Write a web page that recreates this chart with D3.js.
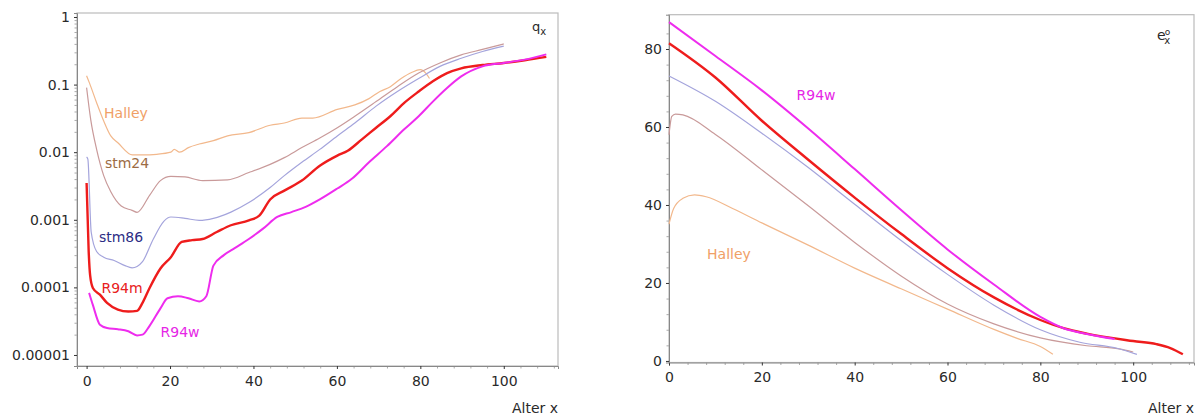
<!DOCTYPE html>
<html>
<head>
<meta charset="utf-8">
<script src="https://d3js.org/d3.v7.min.js"></script>
<style>
  body { margin: 0; background: #fff; }
  svg text { font-family: "DejaVu Sans", Verdana, sans-serif; }
  .tick text { fill: #2a2a2a; font-size: 14px; }
  .major line { stroke: #333; }
  .minor line { stroke: #aaa; }
  .frame { fill: none; stroke: #bbb; stroke-width: 1.2px; }
  .serie { fill: none; }
</style>
</head>
<body>
<svg id="chart" width="1198" height="419"></svg>
<script>
// ---- q_x (mortality) ----
const halleyQ = [[0,0.135],[0.7,0.105],[2.4,0.054],[4,0.030],[5.8,0.0174],[7.5,0.0138],[11,0.0091],[13.4,0.0091],[16.8,0.0093],[20.2,0.0100],[21,0.0110],[22.3,0.0100],[24.4,0.0117],[27,0.0132],[30.4,0.0148],[33.8,0.0174],[38.9,0.0195],[44,0.025],[47.4,0.027],[51.6,0.032],[54.2,0.032],[60.1,0.043],[64.3,0.050],[67.7,0.062],[70.3,0.079],[72.8,0.093],[75.4,0.123],[77.9,0.151],[80,0.166],[81.3,0.148],[82.2,0.123]];
const stm24Q = [[0,0.09],[1,0.03],[2.4,0.011],[4.1,0.0045],[5.8,0.0026],[8.3,0.0016],[10.9,0.00138],[12.1,0.00129],[15.1,0.0023],[17.7,0.0038],[20.2,0.0044],[23.6,0.0043],[27.8,0.0038],[33.8,0.0039],[38.9,0.0050],[44,0.0066],[47.4,0.0083],[51.6,0.0117],[55.9,0.0162],[60.1,0.023],[64.3,0.034],[69.4,0.056],[74.5,0.093],[79.6,0.148],[84.7,0.209],[89.8,0.275],[94.9,0.331],[100,0.40]];
const stm86Q = [[0,0.0085],[0.3,0.0079],[1.1,0.00066],[2.4,0.00034],[4.1,0.00028],[6.6,0.00025],[9.2,0.00021],[10.9,0.000195],[12.1,0.000204],[13.4,0.00024],[16,0.00052],[18.5,0.00095],[20.2,0.0011],[23.6,0.00105],[27,0.00098],[30.4,0.00105],[34.6,0.0013],[38.9,0.0018],[44,0.0030],[47.4,0.0045],[51.6,0.0071],[55.9,0.011],[60.1,0.0174],[64.3,0.027],[69.4,0.048],[74.5,0.079],[79.6,0.123],[84.7,0.186],[89.8,0.245],[94.9,0.309],[100,0.37]];
const r94mQ = [[0,0.0035],[0.5,0.00034],[0.85,0.00015],[1.5,0.000098],[3.2,0.000078],[4.9,0.000059],[7.5,0.000047],[10,0.000044],[12.1,0.000045],[13.4,0.000059],[15.1,0.000098],[17.7,0.00019],[20.2,0.00028],[22.8,0.00047],[25.3,0.00050],[27.8,0.00052],[31.2,0.00066],[34.6,0.00083],[38.9,0.00098],[41.4,0.00115],[44,0.0020],[47.4,0.0027],[51.6,0.0038],[55.9,0.0063],[60.1,0.0089],[62.6,0.0105],[66,0.0155],[69.4,0.023],[72.8,0.034],[76.2,0.054],[79.6,0.079],[83,0.112],[86.4,0.148],[89.8,0.174],[94.9,0.195],[100,0.209],[105,0.229],[110.2,0.257]];
const r94wQ = [[0.6,0.000083],[1.5,0.000055],[3.2,0.000028],[4.9,0.000025],[7.5,0.000024],[10,0.0000224],[12.1,0.0000195],[13.4,0.00002],[15.1,0.000027],[17.7,0.000049],[19.4,0.000069],[21.9,0.000074],[24.4,0.000069],[27,0.000062],[28.7,0.000074],[30.4,0.00021],[32.9,0.00030],[35.5,0.00038],[38.9,0.00052],[42.3,0.00074],[45.7,0.0011],[49.1,0.0013],[52.5,0.00155],[55.9,0.0020],[60.1,0.0029],[63.5,0.0040],[67.7,0.0071],[72,0.0123],[76.2,0.022],[79.6,0.034],[83,0.056],[86.4,0.089],[89.8,0.132],[94.9,0.186],[100,0.209],[105,0.234],[110.2,0.28]];

// ---- e_x (life expectancy) ----
const halleyE = [[0,35.1],[1,39.1],[3,41.7],[5.5,42.6],[8,42.1],[13.7,39.1],[20,35.4],[30,29.7],[40,23.8],[50,18.5],[60,13.3],[70,8.1],[75,5.8],[80,3.7],[82.7,1.7]];
const stm24E = [[0,58],[0.6,62.7],[1.4,63.3],[3,63.1],[10,58.1],[20,49],[30,39.8],[40,30.4],[50,21.8],[60,14.6],[70,9.5],[80,5.9],[90,3.9],[97,3.1],[100,2.3]];
const stm86E = [[0,73.1],[10,66.6],[20,58.4],[30,49.6],[40,40.2],[50,30.9],[60,22.2],[70,14.3],[80,8.0],[88.5,4.8],[96.7,3.2],[100.8,1.7]];
const r94mE = [[0,81.5],[10,72.7],[20,61.6],[30,51.6],[40,41.9],[50,32.6],[60,23.8],[70,16.3],[80,10.5],[85,8.4],[90,7.0],[100,5.1],[105,4.3],[108,3.3],[110.7,1.7]];
const r94wE = [[0,86.9],[10,78.2],[20,69.4],[30,59.6],[40,49.2],[50,38.7],[60,28.6],[70,19.6],[80,11.3],[85,8.4],[90,6.9],[96,5.6]];

const xTicks = [0, 20, 40, 60, 80, 100];
const qTicks = [1, 0.1, 0.01, 0.001, 0.0001, 0.00001];
const qTickLabels = ["1", "0.1", "0.01", "0.001", "0.0001", "0.00001"];
const eTicks = [0, 20, 40, 60, 80];

const svg = d3.select("#chart");

const series = [
    { name: "Halley", q: halleyQ, e: halleyE, color: "#f2b88c", width: 1.2 },
    { name: "stm24", q: stm24Q, e: stm24E, color: "#c99a9a", width: 1.2 },
    { name: "stm86", q: stm86Q, e: stm86E, color: "#a4a4dc", width: 1.2 },
    { name: "R94m", q: r94mQ, e: r94mE, color: "#ee1c1c", width: 2.4 },
    { name: "R94w", q: r94wQ, e: r94wE, color: "#ee2cee", width: 2 }
];

// draws frame + axes, returns the plot group
function panel(x, y, yTicks, yLabels, minorY, minorX) {
    const g = svg.append("g");
    const [x0, x1] = x.range();
    const [y0, y1] = y.range();

    g.append("rect").attr("class", "frame")
        .attr("x", x0).attr("y", y1).attr("width", x1 - x0).attr("height", y0 - y1);

    // minor ticks first
    g.append("g").attr("class", "minor")
        .attr("transform", `translate(0,${y0})`)
        .call(d3.axisBottom(x).tickValues(minorX).tickSize(2.5).tickFormat(""))
        .call(a => a.select(".domain").remove());
    g.append("g").attr("class", "minor")
        .attr("transform", `translate(${x0},0)`)
        .call(d3.axisLeft(y).tickValues(minorY).tickSize(2.5).tickFormat(""))
        .call(a => a.select(".domain").remove());

    g.append("g").attr("class", "major")
        .attr("transform", `translate(0,${y0})`)
        .call(d3.axisBottom(x).tickValues(xTicks).tickSize(3).tickPadding(7))
        .call(a => a.select(".domain").attr("stroke", "#888"));
    g.append("g").attr("class", "major")
        .attr("transform", `translate(${x0},0)`)
        .call(d3.axisLeft(y).tickValues(yTicks).tickSize(3).tickPadding(4)
            .tickFormat((d, i) => yLabels[i]))
        .call(a => a.select(".domain").attr("stroke", "#888"));

    g.append("text")
        .attr("x", x1).attr("y", 413)
        .attr("text-anchor", "end")
        .attr("font-size", 14).attr("fill", "#2a2a2a")
        .text("Alter x");
    return g;
}

// ---------- left panel: q_x on log scale ----------
const xL = d3.scaleLinear().domain([-2.3, 113]).range([77, 558]);
const yL = d3.scaleLog().domain([Math.pow(10, -5.163), Math.pow(10, 0.059)]).range([366, 13]);

const minorQ = [];
for (let e = -5; e < 0; e++) for (let k = 2; k <= 9; k++) minorQ.push(k * Math.pow(10, e));
const minorX = d3.range(4, 113, 4).filter(v => v % 20 !== 0);

const left = panel(xL, yL, qTicks, qTickLabels, minorQ, minorX);

const lineL = d3.line().x(d => xL(d[0])).y(d => yL(d[1])).curve(d3.curveMonotoneX);
left.selectAll("path.serie").data(series)
    .join("path").attr("class", "serie")
    .attr("stroke", d => d.color)
    .attr("stroke-width", d => d.width)
    .attr("d", d => lineL(d.q));

const qLabels = [
    { text: "Halley", x: 126, y: 118, color: "#f0a066" },
    { text: "stm24", x: 127, y: 168, color: "#9c6c44" },
    { text: "stm86", x: 121, y: 242, color: "#2c2c84" },
    { text: "R94m", x: 122, y: 293, color: "#e82020" },
    { text: "R94w", x: 180, y: 337, color: "#e626e6" }
];
left.selectAll("text.lab").data(qLabels)
    .join("text").attr("class", "lab")
    .attr("x", d => d.x).attr("y", d => d.y)
    .attr("text-anchor", "middle").attr("font-size", 14)
    .attr("fill", d => d.color).text(d => d.text);

const qx = left.append("text").attr("x", 532).attr("y", 31).attr("font-size", 13).attr("fill", "#2a2a2a");
qx.append("tspan").text("q");
qx.append("tspan").attr("dy", 4).attr("font-size", 10).text("x");

// ---------- right panel: e_x ----------
const xR = d3.scaleLinear().domain([0, 113.1]).range([669, 1194]);
const yR = d3.scaleLinear().domain([-0.4, 88.8]).range([362.5, 14.7]);
const minorE = d3.range(4, 88, 4).filter(v => v % 20 !== 0);

const right = panel(xR, yR, eTicks, eTicks.map(String), minorE, minorX);

const lineR = d3.line().x(d => xR(d[0])).y(d => yR(d[1])).curve(d3.curveMonotoneX);
right.selectAll("path.serie").data(series)
    .join("path").attr("class", "serie")
    .attr("stroke", d => d.color)
    .attr("stroke-width", d => d.width)
    .attr("d", d => lineR(d.e));

const eLabels = [
    { text: "R94w", x: 816, y: 100, color: "#e626e6" },
    { text: "Halley", x: 729, y: 259, color: "#f0a066" }
];
right.selectAll("text.lab").data(eLabels)
    .join("text").attr("class", "lab")
    .attr("x", d => d.x).attr("y", d => d.y)
    .attr("text-anchor", "middle").attr("font-size", 14)
    .attr("fill", d => d.color).text(d => d.text);

const ex = right.append("text").attr("x", 1157).attr("y", 40).attr("font-size", 14).attr("fill", "#2a2a2a");
ex.append("tspan").text("e");
ex.append("tspan").attr("dx", -1).attr("dy", -5).attr("font-size", 9).text("o");
ex.append("tspan").attr("dx", -6).attr("dy", 9).attr("font-size", 10).text("x");
</script>
</body>
</html>
